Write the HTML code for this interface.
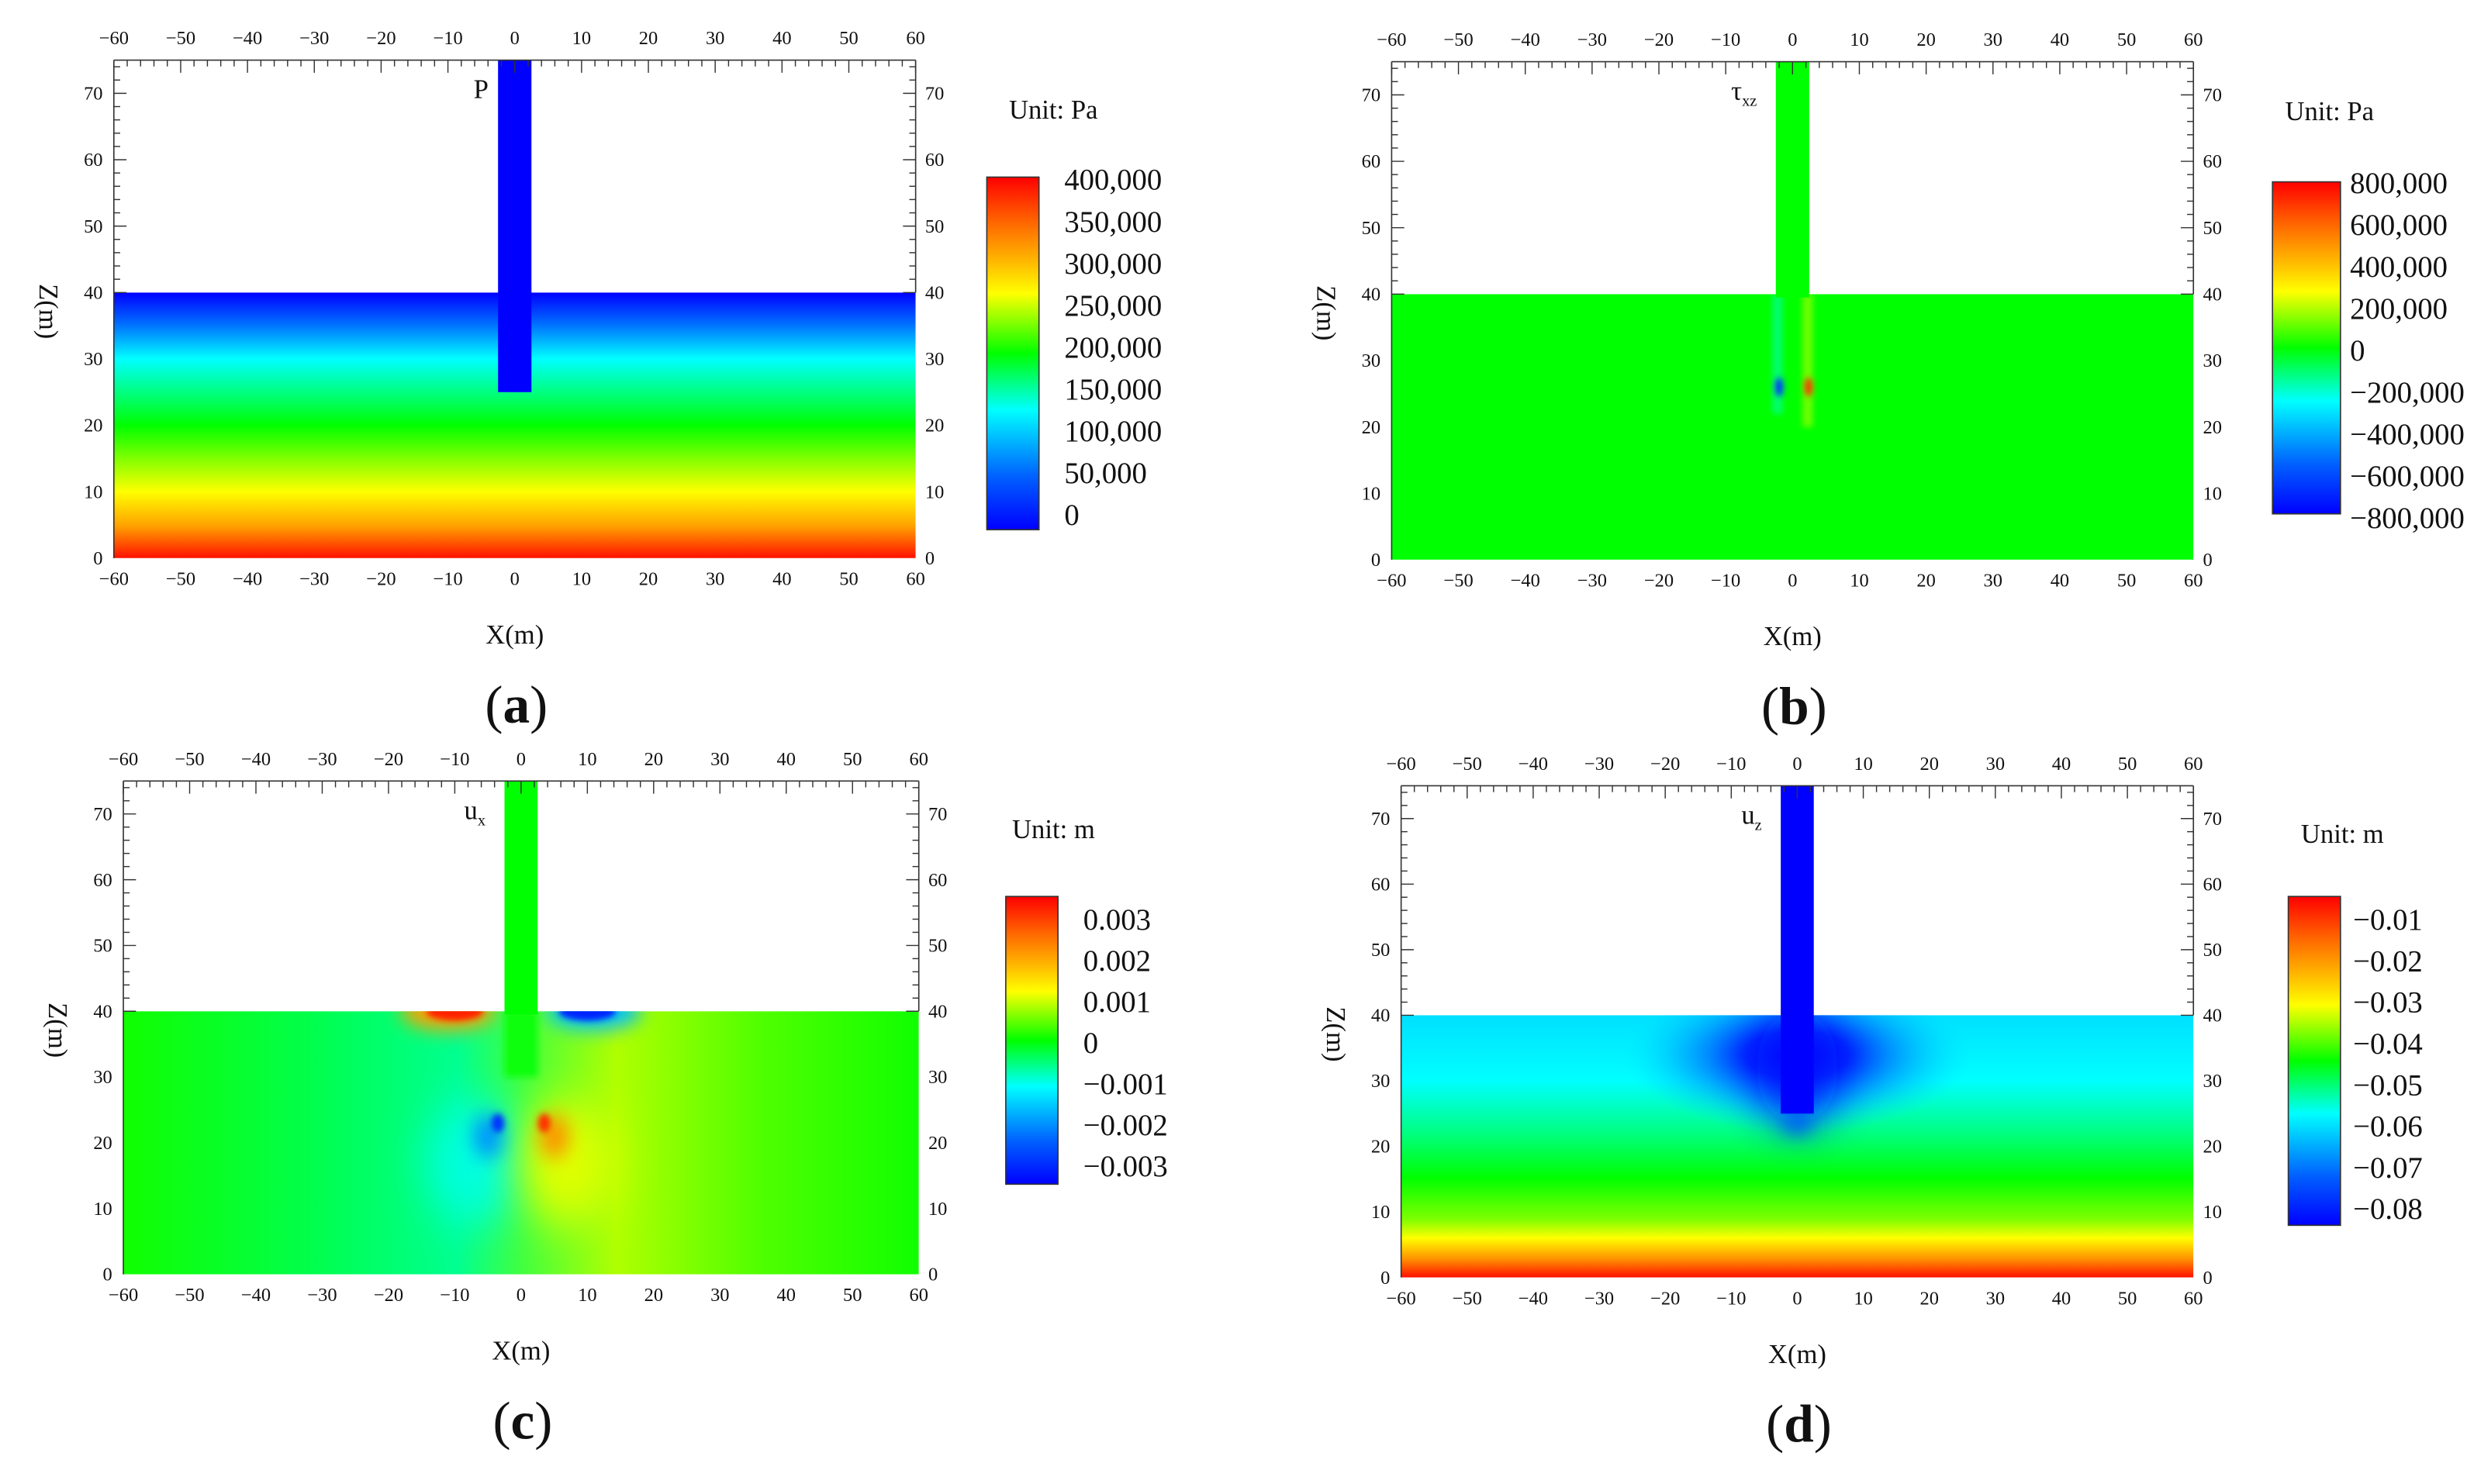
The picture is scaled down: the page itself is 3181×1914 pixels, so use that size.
<!DOCTYPE html>
<html><head><meta charset="utf-8">
<style>
html,body{margin:0;padding:0;background:#fff;}
svg{display:block;}
text{font-family:"Liberation Serif",serif;fill:#111;}
</style></head>
<body>
<svg id="fig" width="3181" height="1914" viewBox="0 0 1560 938.6" xmlns="http://www.w3.org/2000/svg">
<defs>
<linearGradient id="jetV" x1="0" y1="0" x2="0" y2="1">
<stop offset="0" stop-color="#ff0000"/><stop offset="0.12" stop-color="#ff6000"/><stop offset="0.25" stop-color="#ffc000"/><stop offset="0.33" stop-color="#ffff00"/><stop offset="0.5" stop-color="#00ff00"/><stop offset="0.66" stop-color="#00ffff"/><stop offset="0.85" stop-color="#0060ff"/><stop offset="1" stop-color="#0000ff"/>
</linearGradient>
<linearGradient id="fieldA" x1="0" y1="0" x2="0" y2="1">
<stop offset="0" stop-color="#0000ff"/><stop offset="0.12" stop-color="#0070ff"/><stop offset="0.25" stop-color="#00ffff"/><stop offset="0.5" stop-color="#00ff00"/><stop offset="0.75" stop-color="#ffff00"/><stop offset="0.88" stop-color="#ffa000"/><stop offset="1" stop-color="#ff1000"/>
</linearGradient>
<linearGradient id="fieldD" x1="0" y1="0" x2="0" y2="1">
<stop offset="0" stop-color="#00e0ff"/><stop offset="0.25" stop-color="#00ffff"/><stop offset="0.45" stop-color="#00ff80"/><stop offset="0.62" stop-color="#00ff00"/><stop offset="0.78" stop-color="#80ff00"/><stop offset="0.85" stop-color="#ffff00"/><stop offset="0.93" stop-color="#ff9000"/><stop offset="1" stop-color="#ff1000"/>
</linearGradient>
<linearGradient id="fieldC" x1="0" y1="0" x2="1" y2="0">
<stop offset="0" stop-color="#10ff00"/><stop offset="0.25" stop-color="#00ff50"/><stop offset="0.42" stop-color="#00ff90"/><stop offset="0.5" stop-color="#40ff40"/><stop offset="0.62" stop-color="#b0ff00"/><stop offset="0.8" stop-color="#50ff00"/><stop offset="1" stop-color="#10ff00"/>
</linearGradient>
<radialGradient id="halo" cx="0.5" cy="0.5" r="0.5">
<stop offset="0" stop-color="#0000ff"/><stop offset="0.3" stop-color="#0030ff"/><stop offset="0.65" stop-color="#00a0ff" stop-opacity="0.7"/><stop offset="1" stop-color="#00e0ff" stop-opacity="0"/>
</radialGradient>
<filter id="blur2" x="-3" y="-3" width="7" height="7"><feGaussianBlur stdDeviation="2"/></filter>
<filter id="blur6" x="-3" y="-3" width="7" height="7"><feGaussianBlur stdDeviation="6"/></filter>
<filter id="blur14" x="-3" y="-3" width="7" height="7"><feGaussianBlur stdDeviation="14"/></filter>
</defs>
</svg>
<script>
const NS='http://www.w3.org/2000/svg';
const svg=document.getElementById('fig');
const xTicks=[-60,-50,-40,-30,-20,-10,0,10,20,30,40,50,60];
const zTicks=[0,10,20,30,40,50,60,70];
const cbA=['400,000','350,000','300,000','250,000','200,000','150,000','100,000','50,000','0'];
const cbB=['800,000','600,000','400,000','200,000','0','\u2212200,000','\u2212400,000','\u2212600,000','\u2212800,000'];
const cbC=['0.003','0.002','0.001','0','\u22120.001','\u22120.002','\u22120.003'];
const cbD=['\u22120.01','\u22120.02','\u22120.03','\u22120.04','\u22120.05','\u22120.06','\u22120.07','\u22120.08'];
const groundLevel=40, pileTip=25, pileHalf=2.5, zMax=75;

function el(tag,attrs,parent){const e=document.createElementNS(NS,tag);for(const k in attrs)e.setAttribute(k,attrs[k]);(parent||svg).appendChild(e);return e;}
function txt(s,attrs,parent){const e=el('text',attrs,parent);e.textContent=s;return e;}

const panels=[
 {id:'a',L:72,R:579,T:38,B:353,cb:[624,657,112,335],cbL:[113,325],cbX:673,labels:cbA,unit:'Unit: Pa',unitXY:[638,75],sym:'P',sub:'',letter:'a'},
 {id:'b',L:880,R:1387,T:39,B:354,cb:[1437,1480,115,325],cbL:[115,327],cbX:1486,labels:cbB,unit:'Unit: Pa',unitXY:[1445,76],sym:'\u03c4',sub:'xz',letter:'b'},
 {id:'c',L:78,R:581,T:494,B:806,cb:[636,669,567,749],cbL:[581,737],cbX:685,labels:cbC,unit:'Unit: m',unitXY:[640,530],sym:'u',sub:'x',letter:'c'},
 {id:'d',L:886,R:1387,T:497,B:808,cb:[1447,1480,567,775],cbL:[581,764],cbX:1488,labels:cbD,unit:'Unit: m',unitXY:[1455,533],sym:'u',sub:'z',letter:'d'}
];

panels.forEach(p=>{
 const g=el('g',{});
 
 
 const px=x=>p.L+(x+60)/120*(p.R-p.L);
 const py=z=>p.B-z/zMax*(p.B-p.T);
 const gy=py(groundLevel), W=p.R-p.L, H=p.B-gy;
 const cid='clip'+p.id;
 const cp=el('clipPath',{id:cid},g); el('rect',{x:p.L,y:gy,width:W,height:H},cp);
 const field=el('g',{'clip-path':'url(#'+cid+')'},g);
 
 
 let pileColor='#0000ff', tip=pileTip;
 if(p.id==='a'){el('rect',{x:p.L,y:gy,width:W,height:H,fill:'url(#fieldA)'},field);}
 if(p.id==='b'){
  el('rect',{x:p.L,y:gy,width:W,height:H,fill:'#00ff00'},field);
  el('rect',{x:px(-3),y:gy,width:px(-1.5)-px(-3),height:py(22)-gy,fill:'#00ffa0',filter:'url(#blur2)',opacity:0.7},field);
  el('rect',{x:px(1.5),y:gy,width:px(3)-px(1.5),height:py(20)-gy,fill:'#a0ff00',filter:'url(#blur2)',opacity:0.7},field);
  el('ellipse',{cx:px(-2),cy:py(26),rx:2.5,ry:6,fill:'#0030ff',filter:'url(#blur2)'},field);
  el('ellipse',{cx:px(2.4),cy:py(26),rx:2.5,ry:6,fill:'#ff3000',filter:'url(#blur2)'},field);
  pileColor='#00ff00'; tip=groundLevel-0.5;
 }
 if(p.id==='c'){
  el('rect',{x:p.L,y:gy,width:W,height:H,fill:'url(#fieldC)'},field);
  el('ellipse',{cx:px(-7),cy:py(17),rx:30,ry:40,fill:'#00ffe0',filter:'url(#blur14)'},field);
  el('ellipse',{cx:px(7),cy:py(17),rx:30,ry:40,fill:'#e0ff00',filter:'url(#blur14)'},field);
  el('ellipse',{cx:px(-5),cy:py(21),rx:9,ry:14,fill:'#0090ff',filter:'url(#blur6)'},field);
  el('ellipse',{cx:px(5),cy:py(21),rx:9,ry:14,fill:'#ff9000',filter:'url(#blur6)'},field);
  el('ellipse',{cx:px(-3.5),cy:py(23),rx:4,ry:6,fill:'#0030ff',filter:'url(#blur2)'},field);
  el('ellipse',{cx:px(3.5),cy:py(23),rx:4,ry:6,fill:'#ff3000',filter:'url(#blur2)'},field);
  el('ellipse',{cx:px(-11),cy:gy,rx:30,ry:12,fill:'#ffa000',filter:'url(#blur6)'},field);
  el('ellipse',{cx:px(-10),cy:gy,rx:18,ry:6,fill:'#ff2000',filter:'url(#blur2)'},field);
  el('ellipse',{cx:px(11),cy:gy,rx:30,ry:12,fill:'#00c0ff',filter:'url(#blur6)'},field);
  el('ellipse',{cx:px(10),cy:gy,rx:18,ry:6,fill:'#0020ff',filter:'url(#blur2)'},field);
  el('rect',{x:px(-pileHalf),y:gy,width:px(pileHalf)-px(-pileHalf),height:py(30)-gy,fill:'#10ff10',filter:'url(#blur2)'},field);
  pileColor='#00ff00'; tip=groundLevel-0.5;
 }
 if(p.id==='d'){
  el('rect',{x:p.L,y:gy,width:W,height:H,fill:'url(#fieldD)'},field);
  el('ellipse',{cx:px(0),cy:py(34),rx:110,ry:50,fill:'url(#halo)'},field);
  el('ellipse',{cx:px(0),cy:py(32),rx:26,ry:36,fill:'#0010ff',filter:'url(#blur14)',opacity:0.85},field);
  el('ellipse',{cx:px(0),cy:py(23.5),rx:9,ry:6,fill:'#0050ff',filter:'url(#blur6)'},field);
  tip=25;
 }
 const pile=el('rect',{x:px(-pileHalf),y:p.T,width:px(pileHalf)-px(-pileHalf),height:py(tip)-p.T,fill:pileColor},g);
 
 
 el('line',{x1:p.L,y1:p.T,x2:p.R,y2:p.T,stroke:'#333','stroke-width':0.8},g);
 el('line',{x1:p.L,y1:p.T,x2:p.L,y2:p.B,stroke:'#333','stroke-width':0.8},g);
 el('line',{x1:p.R,y1:p.T,x2:p.R,y2:gy,stroke:'#333','stroke-width':0.8},g);
 for(let x=-60;x<=60;x+=2){const maj=x%10===0;el('line',{x1:px(x),y1:p.T,x2:px(x),y2:p.T+(maj?8:4),stroke:'#333','stroke-width':0.7},g);}
 for(let z=40;z<=74;z+=2){const maj=z%10===0;
  el('line',{x1:p.L,y1:py(z),x2:p.L+(maj?8:4),y2:py(z),stroke:'#333','stroke-width':0.7},g);
  el('line',{x1:p.R,y1:py(z),x2:p.R-(maj?8:4),y2:py(z),stroke:'#333','stroke-width':0.7},g);}
 xTicks.forEach(v=>{
  const s=v<0?'\u2212'+(-v):''+v;
  const t1=txt(s,{x:px(v),y:p.T-10,'font-size':12,'text-anchor':'middle'},g);
  
  
  const t2=txt(s,{x:px(v),y:p.B+17,'font-size':12,'text-anchor':'middle'},g);
  
  
 });
 zTicks.forEach(v=>{
  const t1=txt(''+v,{x:p.L-7,y:py(v)+4,'font-size':12,'text-anchor':'end'},g);
  
  
  const t2=txt(''+v,{x:p.R+6,y:py(v)+4,'font-size':12,'text-anchor':'start'},g);
  
  
 });
 const xl=txt('X(m)',{x:(p.L+p.R)/2,y:p.B+54,'font-size':17,'text-anchor':'middle'},g);
 
 
 const yl=txt('Z(m)',{x:0,y:0,'font-size':17,'text-anchor':'middle',transform:'translate('+(p.L-47)+','+(py(40)+12)+') rotate(90)'},g);
 
 
 const sym=txt(p.sym,{x:px(-pileHalf)-(p.sub?12:6),y:p.T+24,'font-size':17,'text-anchor':'end'},g);
 
 
 if(p.sub){const ts=el('tspan',{'font-size':10,dy:4},sym);ts.textContent=p.sub;}
 const [cx1,cx2,cy1,cy2]=p.cb;
 const cb=el('rect',{x:cx1,y:cy1,width:cx2-cx1,height:cy2-cy1,fill:'url(#jetV)',stroke:'#333','stroke-width':0.8},g);
 
 
 p.labels.forEach((s,i)=>{
  const y=p.cbL[0]+(p.cbL[1]-p.cbL[0])*i/(p.labels.length-1);
  const t=txt(s,{x:p.cbX,y:y+7,'font-size':19},g);
  
  
 });
 const u=txt(p.unit,{x:p.unitXY[0],y:p.unitXY[1],'font-size':17},g);
 
 
 const cap=txt('',{x:(p.L+p.R)/2+1,y:p.B+104,'font-size':34,'text-anchor':'middle'},g);
 
 
 const a=el('tspan',{},cap);a.textContent='(';
 const b=el('tspan',{'font-weight':'bold'},cap);b.textContent=p.letter;
 const c=el('tspan',{},cap);c.textContent=')';
});
</script>
</body></html>
